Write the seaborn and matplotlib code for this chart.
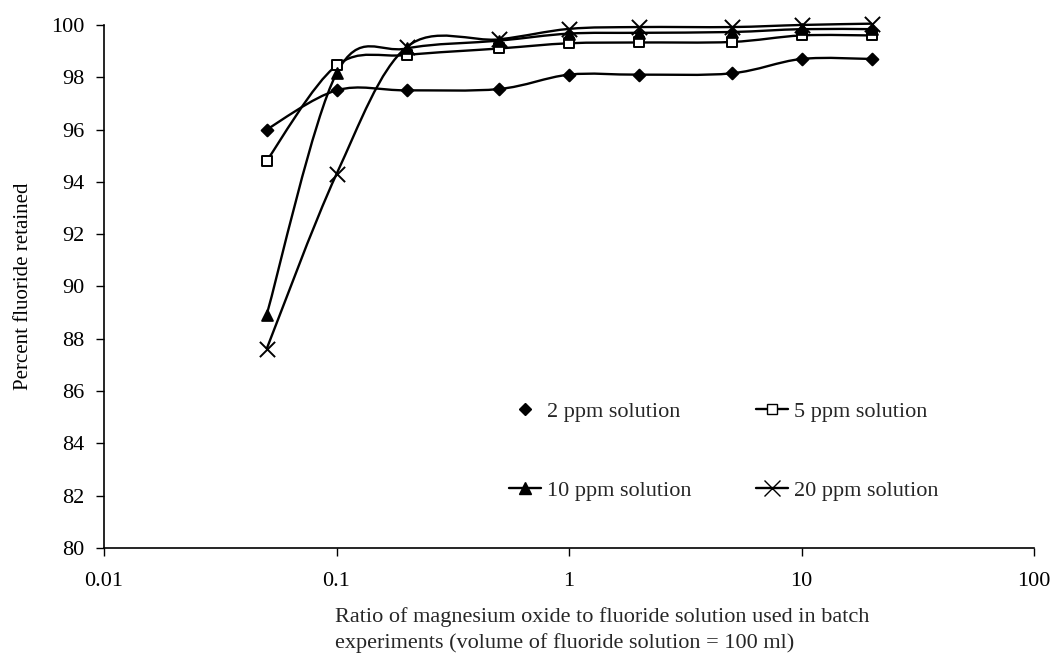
import numpy as np
import seaborn as sns
import matplotlib.pyplot as plt
from matplotlib.path import Path
from matplotlib.patches import PathPatch
from matplotlib.lines import Line2D

# ratio of MgO to fluoride solution
ratio = [0.05, 0.1, 0.2, 0.5, 1, 2, 5, 10, 20]

# percent fluoride retained
ppm_2 = [96.0, 97.5, 97.5, 97.55, 98.1, 98.1, 98.15, 98.7, 98.7]
ppm_5 = [94.8, 98.45, 98.85, 99.1, 99.3, 99.33, 99.35, 99.6, 99.6]
ppm_10 = [88.9, 98.15, 99.1, 99.4, 99.67, 99.7, 99.73, 99.84, 99.84]
ppm_20 = [87.6, 94.3, 99.15, 99.45, 99.85, 99.92, 99.92, 100.0, 100.05]

labels = ["2 ppm solution", "5 ppm solution", "10 ppm solution", "20 ppm solution"]
y_ticks = list(range(80, 101, 2))
x_ticks = [0.01, 0.1, 1, 10, 100]
x_tick_labels = ["0.01", "0.1", "1", "10", "100"]


def smooth_path(xs, ys):
    # excel-like smoothed line: catmull-rom bezier in log-x space
    lx = np.log10(xs)
    y = np.asarray(ys, dtype=float)
    n = len(lx)
    verts = [(xs[0], y[0])]
    codes = [Path.MOVETO]
    for i in range(n - 1):
        i0 = max(i - 1, 0)
        i3 = min(i + 2, n - 1)
        c1x = lx[i] + (lx[i + 1] - lx[i0]) / 6
        c1y = y[i] + (y[i + 1] - y[i0]) / 6
        c2x = lx[i + 1] - (lx[i3] - lx[i]) / 6
        c2y = y[i + 1] - (y[i3] - y[i]) / 6
        verts += [(10 ** c1x, c1y), (10 ** c2x, c2y), (xs[i + 1], y[i + 1])]
        codes += [Path.CURVE4] * 3
    return Path(verts, codes)


sns.set_style("ticks")
plt.rcParams['font.family'] = ['Liberation Serif', 'DejaVu Serif']

fig, ax = plt.subplots(figsize=(10.53, 6.57), dpi=100)
fig.subplots_adjust(left=0.0988, right=0.982, top=0.962, bottom=0.166)

series = [ppm_2, ppm_5, ppm_10, ppm_20]
markers = ["D", "s", "^", "x"]
sizes = [36, 50, 60, 120]
faces = ["black", "white", "black", "black"]

for vals, m, s, fc in zip(series, markers, sizes, faces):
    ax.add_patch(PathPatch(smooth_path(ratio, vals), facecolor="none",
                           edgecolor="black", lw=1.7, clip_on=False))
    sns.scatterplot(x=ratio, y=vals, marker=m, s=s, color=fc,
                    edgecolor="black", linewidth=1.4, ax=ax,
                    clip_on=False, zorder=3)

ax.set_xscale("log")
ax.set_xlim(0.01, 100)
ax.set_ylim(80, 100)
ax.set_xticks(x_ticks)
ax.set_xticklabels(x_tick_labels)
ax.minorticks_off()
ax.set_yticks(y_ticks)
ax.tick_params(axis="both", labelsize=16, length=6, width=1, color="black",
               labelcolor="black")
ax.tick_params(axis="x", pad=11)
ax.tick_params(axis="y", pad=8)
for sp in ["left", "bottom"]:
    ax.spines[sp].set_color("black")
    ax.spines[sp].set_linewidth(1.2)
sns.despine(ax=ax)

ax.set_ylabel("Percent fluoride retained", fontsize=15, color="black",
              labelpad=13)
fig.text(335 / 1053, 1 - 630 / 657,
         "Ratio of magnesium oxide to fluoride solution used in batch\n"
         "experiments (volume of fluoride solution = 100 ml)",
         ha="left", va="center", fontsize=16, linespacing=1.35)

handles = [
    Line2D([], [], color="black", marker="D", markersize=6, linestyle="none"),
    Line2D([], [], color="black", marker="^", markersize=8, lw=1.7),
    Line2D([], [], color="black", marker="s", markersize=7, lw=1.7,
           markerfacecolor="white"),
    Line2D([], [], color="black", marker="x", markersize=11, lw=1.7),
]
leg_labels = [labels[0], labels[2], labels[1], labels[3]]
ax.legend(handles, leg_labels, ncol=2, frameon=False, loc="upper left",
          bbox_to_anchor=(0.414, 0.318), fontsize=16, labelspacing=2.6,
          handlelength=1.45, handletextpad=0.25, columnspacing=2.9)

fig.savefig("out.png", dpi=100)
